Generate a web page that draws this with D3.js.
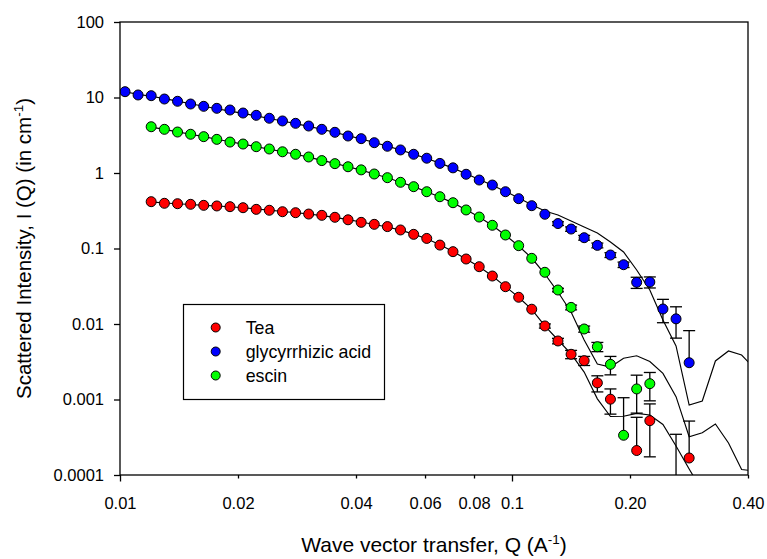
<html>
  <head>
    <style>
      body { margin:0; background:#fff; }
      text {
        font-family: "Liberation Sans", Arial, sans-serif;
        fill:#000;
      }
      .tick text { font-size:16.5px; }
      .axis path, .axis line, .frame { stroke:#000; stroke-width:1.3px; fill:none; }
      .fits path { fill:none; stroke:#000; stroke-width:1.15px; }
      .errs line { stroke:#000; stroke-width:1.3px; }
      .pts circle, .legend circle { stroke:#000; stroke-width:1px; }
      .legend rect { fill:#fff; stroke:#000; stroke-width:1.2px; }
      .legend text { font-size:17.8px; }
      .title { text-anchor:middle; }
    </style>
    <script src="https://d3js.org/d3.v7.min.js" charset="utf-8"></script>
  </head>
  <body>
    <script>
      // Q grid (A^-1) shared by all series and fits
      const qGrid = [0.01030, 0.01112, 0.01201, 0.01298, 0.01402, 0.01514, 0.01635, 0.01766, 0.01908, 0.02060,
        0.02226, 0.02404, 0.02597, 0.02805, 0.03029, 0.03272, 0.03534, 0.03817, 0.04123, 0.04453,
        0.04810, 0.05195, 0.05612, 0.06061, 0.06547, 0.07071, 0.07637, 0.08249, 0.08910, 0.09624,
        0.1040, 0.1123, 0.1213, 0.1310, 0.1415, 0.1528, 0.1651, 0.1783, 0.1926, 0.2080,
        0.2247, 0.2427, 0.2621, 0.2831, 0.3058, 0.3303, 0.3567, 0.3853, 0.4162]

      const legendNames = ['Tea', 'glycyrrhizic acid', 'escin']
      const colors = ['#ff0000', '#0000ff', '#00ff00']

      // measured I(Q), cm^-1
      const teaI = [null, null, 0.417, 0.397, 0.392, 0.385, 0.373, 0.366, 0.358, 0.347,
        0.330, 0.321, 0.307, 0.298, 0.286, 0.275, 0.259, 0.240, 0.222, 0.209,
        0.195, 0.176, 0.154, 0.136, 0.111, 0.0908, 0.0726, 0.0574, 0.0432, 0.0312,
        0.0226, 0.0157, 0.00942, 0.00596, 0.00397, 0.00327, 0.00166, 0.00101, null, 0.000211,
        0.000524, null, -0.00001, 0.000168, null, null, null, null, null]
      const teaErr = [null, null, null, null, null, null, null, null, null, null,
        null, null, null, null, null, null, null, null, null, null,
        null, null, null, null, null, null, null, null, null, null,
        null, null, 0.0006, 0.0005, 0.0005, 0.00045, 0.0004, 0.00037, null, 0.00037,
        0.00035, null, 0.000356, 0.00035, null, null, null, null, null]

      const glyI = [11.94, 10.8, 10.57, 9.55, 8.91, 8.20, 7.64, 7.19, 6.83, 6.23,
        5.81, 5.31, 4.89, 4.55, 4.19, 3.79, 3.46, 3.09, 2.85, 2.52,
        2.26, 2.02, 1.77, 1.57, 1.34, 1.17, 0.962, 0.807, 0.693, 0.565,
        0.457, 0.369, 0.284, 0.214, 0.181, 0.139, 0.110, 0.0820, 0.0610, 0.0356,
        0.0360, 0.0158, 0.0117, 0.00307, null, null, null, null, null]
      const glyErr = [null, null, null, null, null, null, null, null, null, null,
        null, null, null, null, null, null, null, null, null, null,
        null, null, null, null, null, null, null, null, null, null,
        null, null, null, 0.012, 0.012, 0.010, 0.008, 0.006, 0.005, 0.006,
        0.006, 0.0054, 0.0052, 0.0051, null, null, null, null, null]

      const escI = [null, null, 4.10, 3.79, 3.49, 3.26, 3.03, 2.79, 2.57, 2.42,
        2.23, 2.08, 1.91, 1.77, 1.63, 1.46, 1.33, 1.21, 1.10, 0.970,
        0.867, 0.753, 0.659, 0.565, 0.485, 0.404, 0.324, 0.261, 0.203, 0.151,
        0.109, 0.0741, 0.0484, 0.0282, 0.0166, 0.00859, 0.00500, 0.00292, 0.000336, 0.00138,
        0.00162, null, null, null, null, null, null, null, null]
      const escErr = [null, null, null, null, null, null, null, null, null, null,
        null, null, null, null, null, null, null, null, null, null,
        null, null, null, null, null, null, null, null, null, null,
        null, null, null, 0.0015, 0.0012, 0.0008, 0.0007, 0.0008, 0.00072, 0.00072,
        0.00066, null, null, null, null, null, null, null, null]

      // model fits
      const teaFit = [null, null, 0.415, 0.400, 0.391, 0.383, 0.373, 0.365, 0.357, 0.347,
        0.334, 0.322, 0.309, 0.298, 0.286, 0.273, 0.258, 0.241, 0.224, 0.208,
        0.193, 0.175, 0.155, 0.135, 0.112, 0.091, 0.0725, 0.0572, 0.0432, 0.0313,
        0.0226, 0.0156, 0.00942, 0.00614, 0.00401, 0.00231, 0.00102, 0.000596, 0.000600, 0.000656,
        0.000624, 0.000467, 0.000242, 0.000120, 0.0000614, null, null, null, null]
      const glyFit = [11.9, 11.0, 10.4, 9.65, 8.95, 8.25, 7.65, 7.1, 6.6, 6.15,
        5.7, 5.28, 4.88, 4.5, 4.15, 3.8, 3.45, 3.12, 2.83, 2.54,
        2.27, 2.02, 1.78, 1.56, 1.35, 1.16, 0.98, 0.82, 0.69, 0.57,
        0.465, 0.38, 0.314, 0.278, 0.231, 0.193, 0.160, 0.122, 0.0899, 0.0519,
        0.0282, 0.0113, 0.00512, 0.000845, 0.000955, 0.00324, 0.00439, 0.00388, 0.00254]
      const escFit = [null, null, 4.05, 3.78, 3.50, 3.26, 3.03, 2.80, 2.59, 2.41,
        2.23, 2.07, 1.91, 1.77, 1.62, 1.47, 1.34, 1.21, 1.09, 0.97,
        0.865, 0.755, 0.66, 0.565, 0.482, 0.402, 0.326, 0.262, 0.202, 0.150,
        0.108, 0.0748, 0.0459, 0.0265, 0.0144, 0.00614, 0.00295, 0.00269, 0.00352, 0.00380,
        0.00318, 0.00222, 0.00109, 0.000321, 0.000363, 0.000473, 0.000265, 0.000118, 0.000113]

      const xTicks = [0.01, 0.02, 0.04, 0.06, 0.08, 0.1, 0.2, 0.4]
      const xTickLabels = ['0.01', '0.02', '0.04', '0.06', '0.08', '0.1', '0.20', '0.40']
      const xMajor = [0.01, 0.1]
      const yTicks = [0.0001, 0.001, 0.01, 0.1, 1, 10, 100]
      const yTickLabels = ['0.0001', '0.001', '0.01', '0.1', '1', '10', '100']

      const W = 767, H = 559
      const plot = {left:120, right:748, top:22, bottom:475}

      const x = d3.scaleLog().domain([0.01, 0.4]).range([plot.left, plot.right])
      const y = d3.scaleLog().domain([0.0001, 100]).range([plot.bottom, plot.top])

      const svg = d3.select('body').append('svg').attr('width', W).attr('height', H)

      svg.append('clipPath').attr('id', 'clip')
        .append('rect')
        .attr('x', plot.left).attr('y', plot.top)
        .attr('width', plot.right - plot.left).attr('height', plot.bottom - plot.top)

      const series = [
        {name:legendNames[0], color:colors[0], I:teaI, err:teaErr, fit:teaFit},
        {name:legendNames[1], color:colors[1], I:glyI, err:glyErr, fit:glyFit},
        {name:legendNames[2], color:colors[2], I:escI, err:escErr, fit:escFit},
      ]

      const body = svg.append('g').attr('clip-path', 'url(#clip)')
      const $fits = body.append('g').classed('fits', true)
      const $errs = body.append('g').classed('errs', true)
      const $pts = body.append('g').classed('pts', true)

      const line = d3.line()
        .defined(d => d.v != null)
        .x(d => x(d.q))
        .y(d => y(d.v))

      series.forEach(s => {
        const fitData = qGrid.map((q, i) => ({q, v:s.fit[i]}))
        $fits.append('path').attr('d', line(fitData))

        const pts = qGrid.map((q, i) => ({q, v:s.I[i], e:s.err[i]})).filter(d => d.v != null)

        // error bars: lower half dropped when it would go below zero
        const cap = 6
        pts.filter(d => d.e != null).forEach(d => {
          const top = y(d.v + d.e)
          const low = d.v - d.e
          const cx = x(d.q)
          let bottom
          if (d.v <= 0) bottom = plot.bottom + 10
          else bottom = low > 0 ? y(low) : y(d.v)
          $errs.append('line').attr('x1', cx).attr('x2', cx).attr('y1', top).attr('y2', bottom)
          $errs.append('line').attr('x1', cx - cap).attr('x2', cx + cap).attr('y1', top).attr('y2', top)
          if (d.v > 0 && low > 0) {
            $errs.append('line').attr('x1', cx - cap).attr('x2', cx + cap).attr('y1', bottom).attr('y2', bottom)
          }
        })

        $pts.selectAll(null)
          .data(pts.filter(d => d.v > 0))
          .enter().append('circle')
          .attr('cx', d => x(d.q))
          .attr('cy', d => y(d.v))
          .attr('r', 5)
          .attr('fill', s.color)
      })

      // axes
      const xAxis = svg.append('g').classed('axis', true)
        .attr('transform', `translate(0,${plot.bottom})`)
        .call(d3.axisBottom(x).tickValues(xTicks)
          .tickFormat((d, i) => xTickLabels[i])
          .tickSize(3.5).tickSizeOuter(0))
      xAxis.selectAll('.tick line').attr('y2', d => xMajor.includes(d) ? 6.5 : 3.5)
      xAxis.selectAll('.tick text').attr('y', 22).attr('dy', '0.71em')
      xAxis.select('.domain').remove()

      const yAxis = svg.append('g').classed('axis', true)
        .attr('transform', `translate(${plot.left},0)`)
        .call(d3.axisLeft(y).tickValues(yTicks)
          .tickFormat((d, i) => yTickLabels[i])
          .tickSize(6).tickPadding(10).tickSizeOuter(0))
      yAxis.select('.domain').remove()
      svg.selectAll('.tick text').style('font-family', '"Liberation Sans", Arial, sans-serif')

      svg.append('rect').classed('frame', true)
        .attr('x', plot.left).attr('y', plot.top)
        .attr('width', plot.right - plot.left).attr('height', plot.bottom - plot.top)

      // titles
      const xt = svg.append('text').classed('title', true)
        .style('font-size', '21px')
        .attr('x', (plot.left + plot.right) / 2).attr('y', 552)
      xt.append('tspan').text('Wave vector transfer, Q (A')
      xt.append('tspan').attr('dy', -8).style('font-size', '13.5px').text('-1')
      xt.append('tspan').attr('dy', 8).text(')')

      const yt = svg.append('text').classed('title', true)
        .style('font-size', '20.5px')
        .attr('transform', `translate(31,${(plot.top + plot.bottom) / 2}) rotate(-90)`)
      yt.append('tspan').text('Scattered Intensity, I (Q) (in cm')
      yt.append('tspan').attr('dy', -8).style('font-size', '13.5px').text('-1')
      yt.append('tspan').attr('dy', 8).text(')')

      // legend
      const lg = svg.append('g').classed('legend', true)
      lg.append('rect').attr('x', 183.5).attr('y', 304.5).attr('width', 201).attr('height', 95)
      series.forEach((s, i) => {
        const cy = 327.5 + i * 24
        lg.append('circle').attr('cx', 215.7).attr('cy', cy).attr('r', 4.5).attr('fill', s.color)
        lg.append('text').attr('x', 245.7).attr('y', cy).attr('dy', '0.35em').text(s.name)
      })
    </script>
  </body>
</html>
